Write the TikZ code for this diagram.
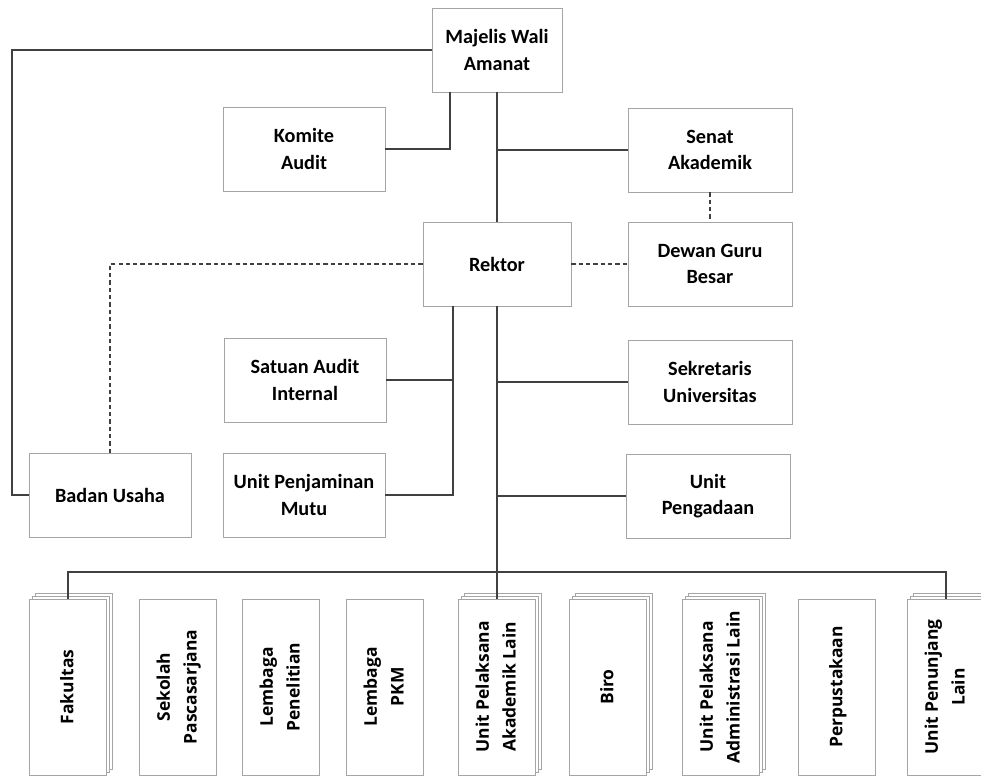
\documentclass[tikz,border=0pt]{standalone}
\usepackage{fontspec}
\setmainfont{Carlito}
\newfontfamily\rowfont{Open Sans}
\usepackage{graphicx}
\usetikzlibrary{positioning, shadows}
\definecolor{linegray}{RGB}{64,64,64}
\definecolor{boxgray}{RGB}{165,165,165}
\newcommand{\vlabel}[1]{\rotatebox{90}{\rowfont\bfseries\fontsize{12.4}{19}\selectfont\begin{tabular}{@{}c@{}}#1\end{tabular}}}

\begin{document}
\begin{tikzpicture}[
    x=0.025cm, y=-0.025cm,
    box/.style={rectangle, draw=boxgray, line width=0.6pt, fill=white, minimum width=4.05cm, minimum height=2.1cm, inner sep=2pt, align=center, font=\bfseries\fontsize{14.4}{19}\selectfont},
    unitbox/.style={rectangle, draw=boxgray, line width=0.5pt, fill=white, minimum width=1.925cm, minimum height=4.4cm, inner sep=0pt},
    stackbox/.style={unitbox,
        general shadow={shadow xshift=0.15cm, shadow yshift=0.15cm, fill=white, draw=boxgray, line width=0.5pt},
        general shadow={shadow xshift=0.075cm, shadow yshift=0.075cm, fill=white, draw=boxgray, line width=0.5pt}},
    link/.style={draw=linegray, line width=1.5pt},
    dlink/.style={draw=linegray, line width=1.1pt, dash pattern=on 3pt off 2.2pt}
]
    \clip (0,0) rectangle (981,776);

    \node[box, minimum width=3.25cm] (mwa) at (497,50) {Majelis Wali\\Amanat};
    \node[box] (komite) at (304,149) {Komite\\Audit};
    \node[box, minimum width=4.1cm] (senat) at (710,150) {Senat\\Akademik};
    \node[box, minimum width=3.7cm] (rektor) at (497,264) {Rektor};
    \node[box, minimum width=4.1cm] (dgb) at (710,264) {Dewan Guru\\Besar};
    \node[box] (sai) at (305,380) {Satuan Audit\\Internal};
    \node[box, minimum width=4.1cm] (sekun) at (710,382) {Sekretaris\\Universitas};
    \node[box] (badan) at (110,495) {Badan Usaha};
    \node[box] (upm) at (304,495) {Unit Penjaminan\\Mutu};
    \node[box, minimum width=4.1cm] (pengadaan) at (708,496) {Unit\\Pengadaan};

    % baris unit di bawah rektor
    \node[stackbox] (fak) at (68,687) {\vlabel{Fakultas}};
    \node[unitbox] (sps) at (178,687) {\vlabel{Sekolah\\Pascasarjana}};
    \node[unitbox] (lp) at (281,687) {\vlabel{Lembaga\\Penelitian}};
    \node[unitbox] (lpkm) at (385,687) {\vlabel{Lembaga\\PKM}};
    \node[stackbox] (upal) at (497,687) {\vlabel{Unit Pelaksana\\Akademik Lain}};
    \node[stackbox] (biro) at (608,687) {\vlabel{Biro}};
    \node[stackbox] (upadm) at (721,687) {\vlabel{Unit Pelaksana\\Administrasi Lain}};
    \node[unitbox] (perpus) at (837,687) {\vlabel{Perpustakaan}};
    \node[stackbox] (upl) at (946,687) {\vlabel{Unit Penunjang\\Lain}};

    % garis komando
    \path[link] (mwa.south) -- (rektor.north);
    \path[link] (mwa.west) -- ++(-420,0) |- (badan.west);
    \path[link] (komite.east) -| ([xshift=0.45cm]mwa.south west);
    \path[link] (senat.west) -- (senat.west -| mwa.south);
    \coordinate (rkiri) at ([xshift=-1.1cm]rektor.south);
    \path[link] (rkiri) |- (upm.east);
    \path[link] (sai.east) -- (sai.east -| rkiri);
    \path[link] (rektor.south) -- (upal.north);
    \path[link] (sekun.west) -- (sekun.west -| rektor.south);
    \path[link] (pengadaan.west) -- (pengadaan.west -| rektor.south);
    \coordinate (bus) at (497,572);
    \path[link] (fak.north) |- (bus) -| (upl.north);

    % garis koordinasi
    \path[dlink] (senat.south) -- (dgb.north);
    \path[dlink] (rektor.east) -- (dgb.west);
    \path[dlink] (rektor.west) -| (badan.north);
\end{tikzpicture}
\end{document}
